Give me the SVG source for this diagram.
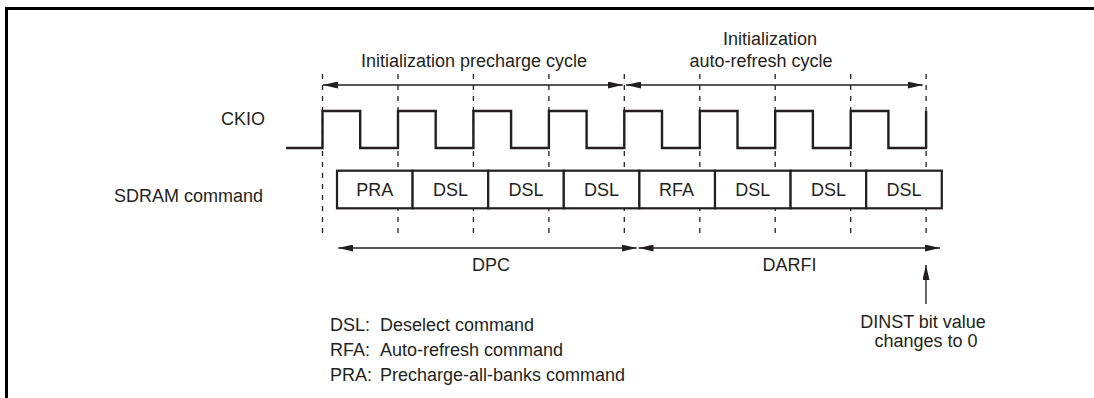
<svg xmlns="http://www.w3.org/2000/svg" width="1094" height="398" viewBox="0 0 1094 398">
<style>
text{font-family:"Liberation Sans",Arial,Helvetica,sans-serif;font-size:18px;fill:#231f20}
.c{text-anchor:middle}
.e{text-anchor:end}
.dash{stroke:#231f20;stroke-width:1.3;stroke-dasharray:5,6;fill:none}
.arr{stroke:#231f20;stroke-width:1.4;fill:none;marker-start:url(#ah);marker-end:url(#ah)}
.cell{fill:#fff;stroke:#231f20;stroke-width:2.2}
.wave{fill:none;stroke:#231f20;stroke-width:2.4;stroke-linejoin:miter}
</style>
<defs>
<marker id="ah" viewBox="0 0 15 7" refX="15" refY="3.5" markerWidth="15" markerHeight="7" markerUnits="userSpaceOnUse" orient="auto-start-reverse">
<path d="M0,0 L15,3.5 L0,7 z" fill="#231f20"/>
</marker>
</defs>
<rect x="0" y="0" width="1094" height="398" fill="#fff"/>
<path id="frame" d="M6.5,398 V8.5 H1094" fill="none" stroke="#000" stroke-width="3"/>

<g id="guides">
<line class="dash" x1="322.5" y1="74" x2="322.5" y2="239"/>
<line class="dash" x1="398" y1="74" x2="398" y2="239"/>
<line class="dash" x1="473.4" y1="74" x2="473.4" y2="239"/>
<line class="dash" x1="548.9" y1="74" x2="548.9" y2="239"/>
<line class="dash" x1="624.3" y1="74" x2="624.3" y2="239"/>
<line class="dash" x1="699.8" y1="74" x2="699.8" y2="239"/>
<line class="dash" x1="775.2" y1="74" x2="775.2" y2="239"/>
<line class="dash" x1="850.7" y1="74" x2="850.7" y2="239"/>
<line class="dash" x1="926.1" y1="74" x2="926.1" y2="239"/>
</g>

<g id="labels">
<text x="474" y="67" class="c">Initialization precharge cycle</text>
<text x="770" y="44.5" class="c">Initialization</text>
<text x="761" y="67" class="c">auto-refresh cycle</text>
<text x="265" y="125" class="e">CKIO</text>
<text x="263" y="201.5" class="e">SDRAM command</text>
</g>

<g id="ckio">
<path class="wave" d="M286,148 H322.5 V111 H360.2 V148 H398 V111 H435.7 V148 H473.4 V111 H511.1 V148 H548.9 V111 H586.6 V148 H624.3 V111 H662 V148 H699.8 V111 H737.5 V148 H775.2 V111 H812.9 V148 H850.7 V111 H888.4 V148 H926.1 V111"/>
</g>

<g id="cmd1"><rect class="cell" x="337" y="170.7" width="75.6" height="37.6"/><text x="374.8" y="196" class="c">PRA</text></g>
<g id="cmd2"><rect class="cell" x="412.6" y="170.7" width="75.6" height="37.6"/><text x="450.4" y="196" class="c">DSL</text></g>
<g id="cmd3"><rect class="cell" x="488.2" y="170.7" width="75.6" height="37.6"/><text x="526" y="196" class="c">DSL</text></g>
<g id="cmd4"><rect class="cell" x="563.8" y="170.7" width="75.6" height="37.6"/><text x="601.6" y="196" class="c">DSL</text></g>
<g id="cmd5"><rect class="cell" x="639.4" y="170.7" width="75.6" height="37.6"/><text x="676.5" y="196" class="c">RFA</text></g>
<g id="cmd6"><rect class="cell" x="715" y="170.7" width="75.6" height="37.6"/><text x="752.8" y="196" class="c">DSL</text></g>
<g id="cmd7"><rect class="cell" x="790.6" y="170.7" width="75.6" height="37.6"/><text x="828.4" y="196" class="c">DSL</text></g>
<g id="cmd8"><rect class="cell" x="866.2" y="170.7" width="75.6" height="37.6"/><text x="904" y="196" class="c">DSL</text></g>

<g id="connectors">
<line class="arr" x1="323" y1="85" x2="622.8" y2="85"/>
<line class="arr" x1="626" y1="85" x2="922.7" y2="85"/>
<line class="arr" x1="338.3" y1="248" x2="636.7" y2="248"/>
<line class="arr" x1="638.5" y1="248" x2="940" y2="248"/>
<line x1="926" y1="304" x2="926" y2="265" stroke="#444" stroke-width="1.6" marker-end="url(#ah)"/>
</g>

<g id="periods">
<text x="491" y="271" class="c">DPC</text>
<text x="789.5" y="271" class="c">DARFI</text>
</g>

<g id="note">
<text x="923" y="328.3" class="c">DINST bit value</text>
<text x="926" y="347.3" class="c">changes to 0</text>
</g>

<g id="legend">
<text x="330" y="330.5">DSL:</text><text x="380" y="330.5">Deselect command</text>
<text x="330" y="355.7">RFA:</text><text x="380" y="355.7">Auto-refresh command</text>
<text x="330" y="381">PRA:</text><text x="380" y="381">Precharge-all-banks command</text>
</g>
</svg>
